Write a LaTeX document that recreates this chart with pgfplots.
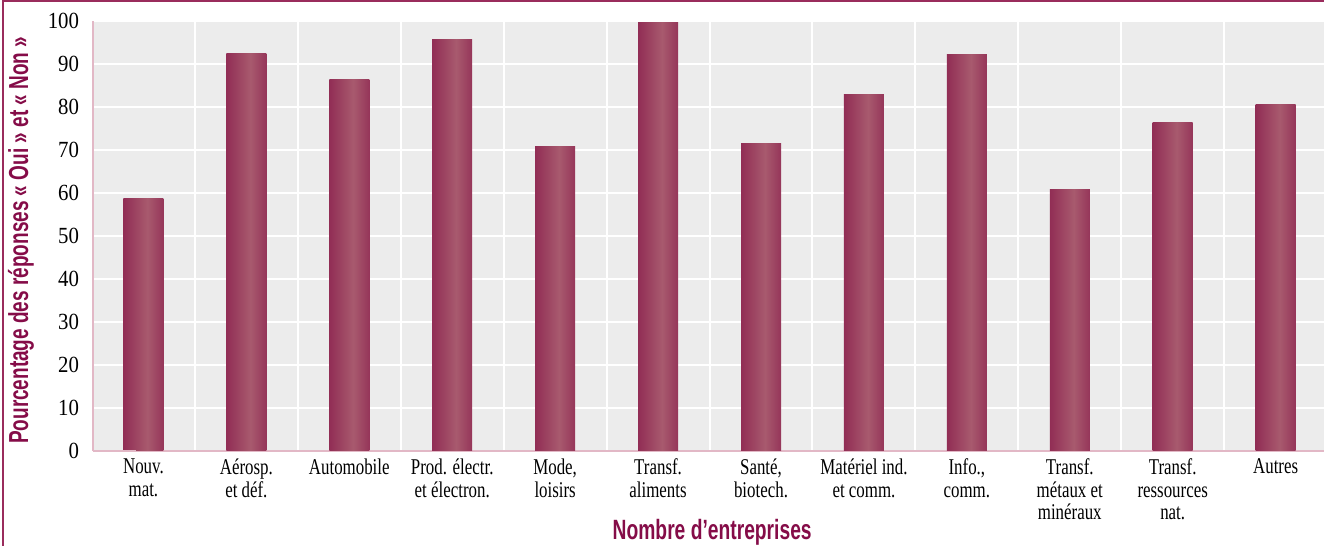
\documentclass[border=0pt]{standalone}
\usepackage{fontspec}
\usepackage{pgfplots}
\pgfplotsset{compat=1.18}
\setmainfont{Liberation Serif}
\newfontfamily\catfont[FakeStretch=0.75]{Liberation Serif}
\newfontfamily\numfont[FakeStretch=0.9]{Liberation Serif}
\newfontfamily\labfont[FakeStretch=0.69]{Liberation Sans}

\definecolor{maroon}{HTML}{850C48}
\definecolor{barlight}{HTML}{A85A6E}
\definecolor{bardark}{HTML}{7E0840}
\definecolor{framec}{HTML}{9A2C5C}
\definecolor{bggray}{HTML}{ECECEC}
\definecolor{axpink}{HTML}{E2B8C6}

\pgfdeclarehorizontalshading{barshade}{100bp}{
  color(0bp)=(bardark); color(55bp)=(barlight); color(100bp)=(bardark)}

\begin{document}
\begin{tikzpicture}
\useasboundingbox (0,0) rectangle (662bp,273bp);
\draw[framec, line width=1.2bp] (1.5bp,0) -- (1.5bp,272.5bp) -- (662bp,272.5bp);

\begin{axis}[
  at={(46.5bp,47.5bp)}, anchor=south west,
  scale only axis,
  width=615.5bp, height=215bp,
  xmin=-0.49, xmax=11.47,
  ymin=0, ymax=100,
  axis background/.style={fill=bggray},
  axis x line=bottom, axis y line=left,
  axis line style={-, draw=axpink, line width=1bp},
  major tick length=0pt, minor tick length=0pt,
  ytick={0,10,...,100},
  xtick={0,...,11},
  minor xtick={0.5,1.5,...,10.5},
  ymajorgrids, xminorgrids,
  major grid style={white, line width=1bp},
  minor grid style={white, line width=1bp},
  /pgf/number format/assume math mode=true,
  yticklabel style={font=\numfont\fontsize{11.6}{12}\selectfont, xshift=-3.5bp},
  xticklabels={{Nouv.\\mat.},{Aérosp.\\et déf.},{Automobile},{Prod. électr.\\et électron.},
    {Mode,\\loisirs},{Transf.\\aliments},{Santé,\\biotech.},{Matériel ind.\\et comm.},
    {Info.,\\comm.},{Transf.\\métaux et\\minéraux},{Transf.\\ressources\\nat.},{Autres}},
  xticklabel style={font=\catfont\fontsize{11.3}{11.25}\selectfont, align=center, text=black, yshift=-0.5bp},
  xlabel={Nombre d’entreprises},
  ylabel={Pourcentage des réponses « Oui » et « Non »},
  every axis x label/.style={at={(axis description cs:0.503,-0.188)}, anchor=center,
    font=\labfont\bfseries\fontsize{14}{16}\selectfont, text=maroon},
  every axis y label/.style={at={(axis description cs:-0.0585,0.49)}, anchor=center, rotate=90,
    font=\labfont\bfseries\fontsize{13.8}{16}\selectfont, text=maroon},
  clip=false,
  ybar, bar width=20bp, bar shift=0pt,
  gbar/.style={draw=none, shade, shading=barshade},
]
\addplot[gbar] coordinates {(0,58.8)};
\addplot[gbar] coordinates {(1,92.4)};
\addplot[gbar] coordinates {(2,86.3)};
\addplot[gbar] coordinates {(3,95.8)};
\addplot[gbar] coordinates {(4,70.9)};
\addplot[gbar] coordinates {(5,99.7)};
\addplot[gbar] coordinates {(6,71.6)};
\addplot[gbar] coordinates {(7,83.0)};
\addplot[gbar] coordinates {(8,92.1)};
\addplot[gbar] coordinates {(9,60.9)};
\addplot[gbar] coordinates {(10,76.5)};
\addplot[gbar] coordinates {(11,80.5)};
\draw[axpink, line width=1bp] (rel axis cs:0,0) -- ++(-3.5bp,0);
\end{axis}
\end{tikzpicture}
\end{document}
